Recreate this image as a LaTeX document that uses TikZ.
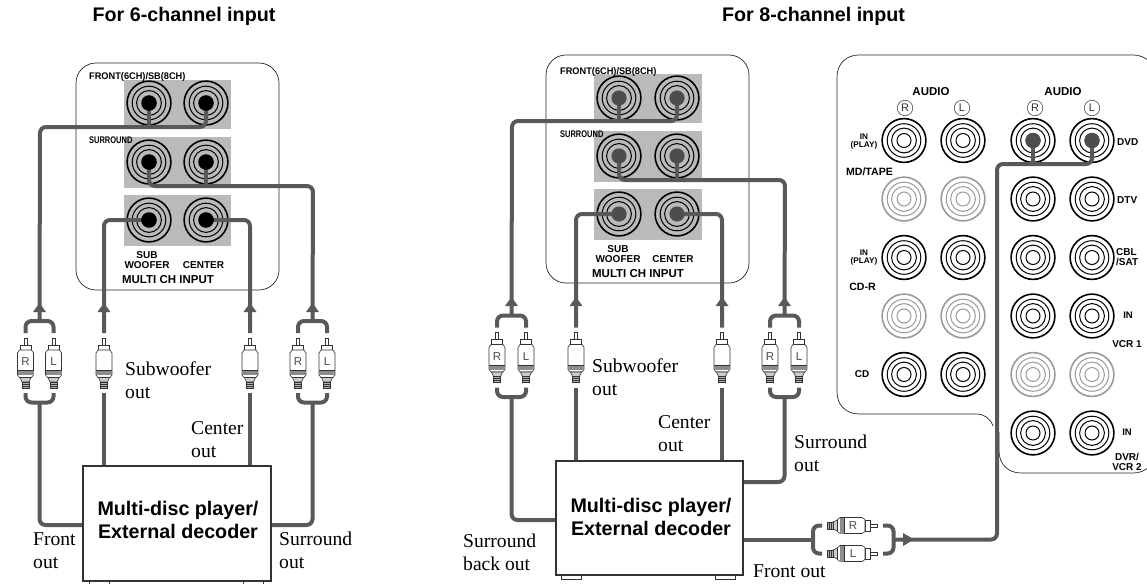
\documentclass[tikz,border=0pt]{standalone}
\usepackage{fontspec}
\setmainfont{Liberation Serif}
\setsansfont{Liberation Sans}
\definecolor{cablec}{HTML}{595959}
\definecolor{hubc}{HTML}{4D4D4D}
\definecolor{padc}{HTML}{B9BABC}
\definecolor{dimc}{HTML}{9A9A9A}
\newcommand\fs[1]{\fontsize{#1}{#1}\selectfont}
\tikzset{
  cable/.style={draw=cablec,line width=4pt,rounded corners=6pt},
  panel/.style={draw=black!85,line width=.7pt},
  pad/.style={fill=padc,draw=none},
  unitbox/.style={draw=black!80,line width=1.1pt,fill=white,inner sep=0pt},
  unittext/.style={font=\sffamily\bfseries\fontsize{19.7}{23}\selectfont,align=center,inner sep=0pt,anchor=base},
  foot/.style={draw=black!80,line width=.8pt,fill=white},
  plugline/.style={draw=black!80,line width=.6pt,fill=white},
  serif/.style={font=\rmfamily\fs{19.6},align=left,inner sep=0pt},
  title/.style={font=\sffamily\bfseries\fs{19.7},inner sep=0pt},
  lab/.style={font=\sffamily\bfseries\fs{#1},inner sep=0pt,align=center},
  lab/.default=10,
  arrowfill/.style={fill=cablec,draw=none},
  plugpic/.pic={
    \draw[plugline] (-1.5,-25) rectangle (1.5,-18);
    \draw[plugline] (-5.5,-18) rectangle (5.5,-13);
    \draw[plugline] (-6,-13) -- (6,-13) -- (8,-10) -- (8,12) -- (6,14.5) -- (-6,14.5) -- (-8,12) -- (-8,-10) -- cycle;
    \fill[black!45] (-8,7.5) rectangle (8,12);
    \draw[black!80,line width=.6pt] (-8,7.5) -- (8,7.5);
    \draw[plugline,fill=black!20] (-5.5,14.5) -- (5.5,14.5) -- (3.5,19) -- (-3.5,19) -- cycle;
    \draw[plugline,fill=black!30] (-3.5,19) rectangle (3.5,25);
    \draw[black!80,line width=.5pt] (-3.5,21) -- (3.5,21) (-3.5,23) -- (3.5,23);
    \node[font=\sffamily\fs{11.5},text=black!70,inner sep=0pt] at (0,-1) {\tikzpictext};
  }
}
% jack rings: name, x, y, colour
\newcommand\jack[4]{%
  \coordinate (#1) at (#2,#3);
  \draw[#4,line width=1.6pt] (#1) circle (21.9pt);
  \draw[#4,line width=1pt] (#1) circle (16.8pt);
  \draw[#4,line width=1pt] (#1) circle (12.4pt);
}
% plug pair, vertical: name, xL, xR, y of plug centre
\newcommand\stereo[4]{%
  \pic[pic text=R] at (#2,#4) {plugpic};
  \pic[pic text=L] at (#3,#4) {plugpic};
  \coordinate (#1top) at ({(#2+#3)/2},#4-42);
  \coordinate (#1bot) at ({(#2+#3)/2},#4+39.5);
  \draw[cable] (#2,#4-30) |- (#1top) -| (#3,#4-30);
  \draw[cable] (#2,#4+30) |- (#1bot) -| (#3,#4+30);
}
\newcommand\monoplug[3]{%
  \pic[pic text={}] at (#2,#3) {plugpic};
  \coordinate (#1top) at (#2,#3-30);
  \coordinate (#1bot) at (#2,#3+30);
}
\newcommand\cablehead[2]{\fill[arrowfill] (#1-6.5,#2+9) -- (#1,#2) -- (#1+6.5,#2+9) -- cycle;}
\begin{document}
\begin{tikzpicture}[x=1pt,y=-1pt]
\useasboundingbox (0,0) rectangle (1147,583);
\clip (0,0) rectangle (1147,583);

\node[title] (t6) at (184,16) {For 6-channel input};
\node[title] (t8) at (813.5,16) {For 8-channel input};

%%% LEFT PANEL
\draw[panel,rounded corners=20pt] (76,63) rectangle (279,290);
\fill[pad] (124,80) rectangle (231,129);
\fill[pad] (124,137) rectangle (231,187.5);
\fill[pad] (124,195) rectangle (231,246);
\jack{la1}{149}{103}{black}\jack{la2}{206}{103}{black}
\jack{lb1}{149}{162}{black}\jack{lb2}{206}{162}{black}
\jack{lc1}{149}{220}{black}\jack{lc2}{206}{220}{black}
\node[lab=9.6,xscale=.96,anchor=west] (lf) at (89,77.5) {FRONT(6CH)/SB(8CH)};
\node[lab=9.6,xscale=.78,anchor=west] (ls) at (89,140) {SURROUND};
\node[lab=10] (lsw) at (147,260) {SUB\\WOOFER};
\node[lab=10] (lce) at (203.5,265) {CENTER};
\node[lab=11.5] (lm) at (168,280) {MULTI CH INPUT};

%%% RIGHT PANEL
\draw[panel,rounded corners=20pt] (546,55) rectangle (749,283);
\fill[pad] (594,74) rectangle (702,123);
\fill[pad] (594,131) rectangle (702,182);
\fill[pad] (594,189) rectangle (702,240);
\jack{ra1}{619}{98}{black}\jack{ra2}{677}{98}{black}
\jack{rb1}{619}{156}{black}\jack{rb2}{677}{156}{black}
\jack{rc1}{619}{214}{black}\jack{rc2}{677}{214}{black}
\node[lab=9.6,xscale=.96,anchor=west] (rf) at (560,72) {FRONT(6CH)/SB(8CH)};
\node[lab=9.6,xscale=.78,anchor=west] (rs) at (560,134) {SURROUND};
\node[lab=10] (rsw) at (618,254.5) {SUB\\WOOFER};
\node[lab=10] (rce) at (673,259) {CENTER};
\node[lab=11.5] (rm) at (638,274) {MULTI CH INPUT};

%%% BIG PANEL
\draw[panel] (993,426) .. controls (990,418) and (984,414) .. (976,414) -- (859,414)
  .. controls (846,414) and (837,405) .. (837,392) -- (837,77)
  .. controls (837,64) and (846,55) .. (859,55) -- (1133,55)
  .. controls (1146,55) and (1155,64) .. (1155,77) -- (1155,451)
  .. controls (1155,464) and (1146,473) .. (1133,473) -- (1021,473)
  .. controls (1008,473) and (999,464) .. (999,451) -- (999,432);
\foreach \n/\x/\y/\cc in {a1/904/140.5/black,a2/963/140.5/black,a3/1033/140.5/black,a4/1092/140.5/black,
  b1/904/199/dimc,b2/963/199/dimc,b3/1033/199/black,b4/1092/199/black,
  c1/904/257.5/black,c2/963/257.5/black,c3/1033/257.5/black,c4/1092/257.5/black,
  d1/904/316/dimc,d2/963/316/dimc,d3/1033/316/black,d4/1092/316/black,
  e1/904/374.5/black,e2/963/374.5/black,e3/1033/374.5/dimc,e4/1092/374.5/dimc,
  f3/1033/433/black,f4/1092/433/black}{
  \jack{k\n}{\x}{\y}{\cc}
  \draw[\cc,line width=1pt] (k\n) circle (7pt);
}
\node[lab=11.5] (au1) at (931,92) {AUDIO};
\node[lab=11.5] (au2) at (1063,92) {AUDIO};
\foreach \n/\x/\tx in {cr1/905/R,cr2/962/L,cr3/1035/R,cr4/1092/L}{
  \node[draw=black!80,circle,line width=.5pt,minimum size=15.5pt,inner sep=0pt,font=\sffamily\fs{11},text=black!80] (\n) at (\x,108) {\tx};
}
\node[lab=8.2] (ip1) at (864,141.5) {IN\\(PLAY)};
\node[lab=8.2] (ip2) at (864,257.5) {IN\\(PLAY)};
\node[lab=10.6] (md) at (869.5,172) {MD/TAPE};
\node[lab=10.6] (cdr) at (862.5,287) {CD-R};
\node[lab=10] (cd) at (862,374) {CD};
\node[lab=10,anchor=west] (dvd) at (1117,142) {DVD};
\node[lab=10,anchor=west] (dtv) at (1117,200) {DTV};
\node[lab=10,anchor=west,align=left] (cbl) at (1116,257) {CBL\\/SAT};
\node[lab=9.5] (in1) at (1128,315) {IN};
\node[lab=10] (vcr) at (1127,344) {VCR 1};
\node[lab=9.5] (in2) at (1127,432) {IN};
\node[lab=10] (dvr) at (1127,461.5) {DVR/\\VCR 2};

%%% PLUGS
\stereo{fl}{25.5}{53.5}{363}
\stereo{sl}{298}{327}{363}
\monoplug{wl}{104}{363}
\monoplug{cl}{250}{363}
\stereo{fr}{497}{526}{357.5}
\stereo{sr}{770}{799}{357.5}
\monoplug{wr}{576}{357.5}
\monoplug{cr}{722}{357.5}
\pic[rotate=-90,pic text=R] at (852,525.5) {plugpic};
\pic[rotate=-90,pic text=L] at (852,553.5) {plugpic};

%%% end points on the units
\coordinate (flout) at (83,525);
\coordinate (slout) at (271,525);
\coordinate (frout) at (556,520);
\coordinate (srout) at (743,482);
\coordinate (fout) at (744,539.5);
\coordinate (brkL) at (813,539.5);
\coordinate (brkR) at (893.5,539.5);
\coordinate (bend) at (997,539.5);

%%% CABLES, left
\draw[cable] (la2) |- (40,127) -- (fltop);
\draw[cable] (la1) -- (la1 |- 0,127);
\draw[cable] (lb1) |- (313,186) -- (sltop);
\draw[cable] (lb2) -- (lb2 |- 0,186);
\draw[cable] (wltop) |- (lc1);
\draw[cable] (cltop) |- (lc2);
\draw[cable] (flbot) |- (flout);
\draw[cable] (slbot) |- (slout);
\draw[cable,rounded corners=0pt] (wlbot) -- (104,468);
\draw[cable,rounded corners=0pt] (clbot) -- (250,468);
\cablehead{39.5}{303}\cablehead{104}{303}\cablehead{250}{303}\cablehead{312.5}{303}

%%% CABLES, right
\draw[cable] (ra2) |- (512,121) -- (frtop);
\draw[cable] (ra1) -- (ra1 |- 0,121);
\draw[cable] (rb1) |- (785,180) -- (srtop);
\draw[cable] (rb2) -- (rb2 |- 0,180);
\draw[cable] (wrtop) |- (rc1);
\draw[cable] (crtop) |- (rc2);
\draw[cable] (frbot) |- (frout);
\draw[cable] (srbot) |- (srout);
\draw[cable,rounded corners=0pt] (wrbot) -- (576,463);
\draw[cable,rounded corners=0pt] (crbot) -- (722,463);
\cablehead{511.5}{297}\cablehead{576}{297}\cablehead{722}{297}\cablehead{784.5}{297}

%%% Front out to DVD
\draw[cable,rounded corners=0pt] (fout) -- (brkL);
\draw[cable] (822,525.5) -| (brkL) |- (822,553.5);
\draw[cable] (883,525.5) -| (brkR) |- (883,553.5);
\draw[cable] (brkR) -- (bend) |- (1092,164) -- (ka4);
\draw[cable] (ka3) -- (ka3 |- 0,164);
\fill[arrowfill] (903,533) -- (914,539.5) -- (903,546) -- cycle;

%%% hubs
\foreach \j in {la1,la2,lb1,lb2,lc1,lc2}{\fill[black] (\j) circle (7.8pt);}
\foreach \j in {ra1,ra2,rb1,rb2,rc1,rc2,ka3,ka4}{\fill[hubc] (\j) circle (7.6pt);}

%%% boxes and feet
\draw[foot] (89,581) rectangle (109,586);
\draw[foot] (243,581) rectangle (263,586);
\draw[foot] (561,575) rectangle (581,579);
\draw[foot] (715,575) rectangle (735,579);
\node[unitbox,minimum width=188pt,minimum height=115pt] (bl) at (177,523.5) {};
\node[unitbox,minimum width=187pt,minimum height=114pt] (br) at (649.5,518) {};
\node[unittext] (blt) at (178,538) {Multi-disc player/\\External decoder};
\node[unittext] (brt) at (651,535) {Multi-disc player/\\External decoder};

%%% serif labels
\node[serif,anchor=base west] (o1) at (125,398) {Subwoofer\\[2.9pt]out};
\node[serif,anchor=base west] (o2) at (191,457) {Center\\[2.9pt]out};
\node[serif,anchor=base west] (o3) at (33,568) {Front\\[2.9pt]out};
\node[serif,anchor=base west] (o4) at (279,568) {Surround\\[2.9pt]out};
\node[serif,anchor=base west] (o5) at (592,395) {Subwoofer\\[2.9pt]out};
\node[serif,anchor=base west] (o6) at (658,451) {Center\\[2.9pt]out};
\node[serif,anchor=base west] (o7) at (794,471) {Surround\\[2.9pt]out};
\node[serif,anchor=base west] (o8) at (463,570) {Surround\\[2.9pt]back out};
\node[serif,anchor=base west] (o9) at (753,577) {Front out};
\end{tikzpicture}
\end{document}
